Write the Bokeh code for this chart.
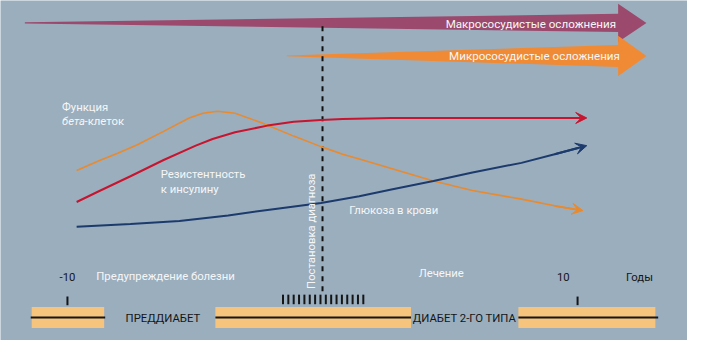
from bokeh.plotting import figure
from bokeh.models import Range1d, Arrow, VeeHead
from bokeh.core.properties import value
from bokeh.embed import file_html
from bokeh.resources import INLINE

# ---------------- data (years relative to diagnosis, arbitrary level units) -------------
beta_years = [-9.64, -8.79, -8.03, -7.26, -6.23, -5.23, -4.69, -4.12, -3.43, -2.39,
              -1.13, -0.06, 0.79, 1.44, 2.70, 4.35, 5.88, 7.80, 9.10, 10.21]
beta_level = [178, 188, 196, 205, 219, 233, 238, 240, 238, 228,
              214, 203, 195, 190, 180, 167, 157, 148, 141, 136]

resist_years = [-9.64, -8.79, -7.53, -6.23, -4.97, -4.31, -3.43, -2.16, -1.13, -0.06,
                0.79, 2.70, 6.53, 10.36]
resist_level = [145, 156, 172, 189, 204, 211, 218, 225, 229, 231,
                232, 233, 233, 233]

gluc_years = [-9.64, -7.53, -5.61, -3.70, -1.78, -0.06, 1.44, 2.70, 4.35, 5.88,
              7.80, 9.10, 10.36]
gluc_level = [119, 122, 125, 131, 138, 144, 151, 158, 167, 176,
              186, 195, 204]

macro_start, micro_start, compl_end = -11.67, -1.40, 11.59
diagnosis_year = 0.0
year_ticks = [-10, 10]
year_tick_labels = ["-10", "10"]
diag_ticks = [-1.55, -1.34, -1.13, -0.92, -0.71, -0.50, -0.29, -0.08,
              0.13, 0.34, 0.55, 0.76, 0.97, 1.18, 1.39, 1.60]
phase_names = ["ПРЕДДИАБЕТ", "ДИАБЕТ 2-ГО ТИПА"]
bar_starts = [-11.40, -4.20, 7.68]
bar_ends = [-8.56, 3.47, 13.05]

# ---------------- styling --------------------------------------------------------------
BG = "#9aaebe"
FONT = "Roboto"
WHITE = "#f6f6f6"
DARK = "#151515"
ORANGE = "#e98a2e"
RED = "#c8142e"
BLUE = "#1c3a6c"
PURPLE = "#9b4a6d"
ORANGE_A = "#f08a34"
BAR = "#f7c47e"
FS = "11.3px"

p = figure(width=687, height=340, output_backend="svg", toolbar_location=None,
           x_range=Range1d(-12.625, 14.31), y_range=Range1d(0, 356),
           background_fill_color=BG, border_fill_color=BG,
           min_border=0, outline_line_color=None)
p.axis.visible = False
p.grid.visible = False

# complication arrows (wedge + head)
def wedge(x0, x1, yc, tail_hw, shaft_hw, head_hw, head_len, color):
    xs = [x0, x1, x1, x1 + head_len, x1, x1, x0]
    ys = [yc + tail_hw, yc + shaft_hw, yc + head_hw, yc, yc - head_hw, yc - shaft_hw, yc - tail_hw]
    p.patch(xs, ys, fill_color=color, line_color=None)

wedge(macro_start, compl_end, 332.5, 0.6, 9.5, 20, 1.11, PURPLE)
wedge(micro_start, compl_end, 298, 0.3, 11.5, 21, 1.11, ORANGE_A)

p.text(x=[11.51, 11.66], y=[331, 298], text=["Макрососудистые осложнения", "Микрососудистые осложнения"],
       text_font=value(FONT), text_font_size="11.6px", text_color=WHITE,
       text_align="right", text_baseline="middle")

# diagnosis dashed line
p.segment(x0=[diagnosis_year], y0=[329], x1=[diagnosis_year], y1=[51],
          line_color="#111111", line_width=2, line_dash="5 5")

# curves
for xs, ys, col, w in [(beta_years, beta_level, ORANGE, 1.6),
                       (resist_years, resist_level, RED, 2),
                       (gluc_years, gluc_level, BLUE, 2)]:
    p.line(xs[:-1] + [xs[-1] - 0.25 * (xs[-1] - xs[-2])],
           ys[:-1] + [ys[-1] - 0.25 * (ys[-1] - ys[-2])], line_color=col, line_width=w)
    p.add_layout(Arrow(end=VeeHead(size=11, fill_color=col, line_color=col, line_width=1),
                       x_start=xs[-2], y_start=ys[-2], x_end=xs[-1], y_end=ys[-1],
                       line_color=col, line_width=w))

# curve labels
p.text(x=[-10.21, -6.34, -6.34, 1.05], y=[244, 174, 158, 136],
       text=["Функция", "Резистентность", "к инсулину", "Глюкоза в крови"],
       text_font=value(FONT), text_font_size=FS, text_color=WHITE,
       text_align="left", text_baseline="middle")
p.text(x=[-10.21], y=[229], text=["бета"], text_font=value(FONT), text_font_size=FS,
       text_font_style="italic", text_color=WHITE, text_align="left", text_baseline="middle")
p.text(x=[-9.33], y=[229], text=["-клеток"], text_font=value(FONT), text_font_size=FS,
       text_color=WHITE, text_align="left", text_baseline="middle")

# vertical label
p.text(x=[-0.45], y=[54], text=["Постановка диагноза"], angle=1.5708,
       text_font=value(FONT), text_font_size=FS, text_color=WHITE,
       text_align="left", text_baseline="middle")

# period labels
p.text(x=[-8.87, 3.77], y=[67, 70], text=["Предупреждение болезни", "Лечение"],
       text_font=value(FONT), text_font_size=FS, text_color=WHITE,
       text_align="left", text_baseline="middle")

# year labels
p.text(x=[year_ticks[0], 9.44], y=[66, 66], text=year_tick_labels,
       text_font=value(FONT), text_font_size=FS, text_color=DARK,
       text_align="center", text_baseline="middle")
p.text(x=[11.90], y=[66], text=["Годы"], text_font=value(FONT), text_font_size=FS,
       text_color=DARK, text_align="left", text_baseline="middle")

# ticks
p.segment(x0=year_ticks, y0=[46, 46], x1=year_ticks, y1=[37, 37], line_color=DARK, line_width=2)
p.segment(x0=diag_ticks, y0=[48] * len(diag_ticks), x1=diag_ticks, y1=[38] * len(diag_ticks),
          line_color=DARK, line_width=2)

# timeline bars
p.quad(left=bar_starts, right=bar_ends, bottom=[13] * 3, top=[35] * 3, fill_color=BAR, line_color=None)
p.segment(x0=[-11.44, -4.20, 7.68], y0=[24] * 3, x1=[-8.52, 3.47, 13.16], y1=[24] * 3,
          line_color=DARK, line_width=2)
p.text(x=[-7.72, 3.54], y=[23, 23], text=phase_names, text_font=value(FONT), text_font_size=FS,
       text_color=DARK, text_align="left", text_baseline="middle")

open("out.html", "w").write(file_html(p, INLINE))
